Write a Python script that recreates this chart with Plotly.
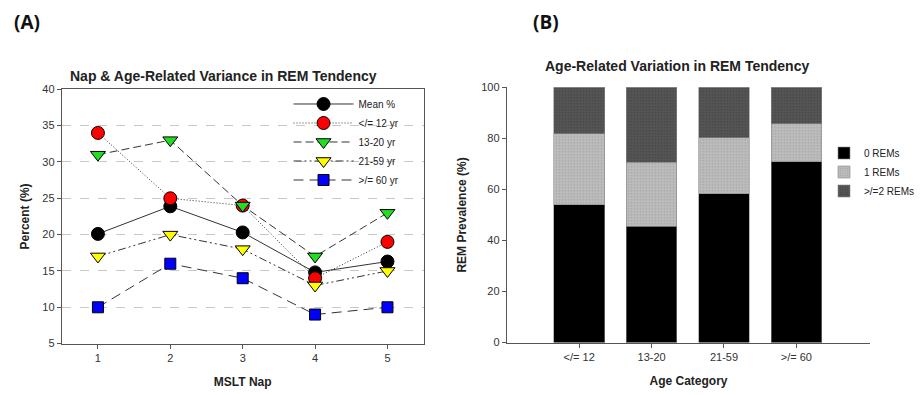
import plotly.graph_objects as go

# ---------- Panel A data ----------
naps = [1, 2, 3, 4, 5]
mean_pct = [20.1, 23.9, 20.3, 14.8, 16.3]
age_le12 = [34, 25, 24, 14, 19]
age_13_20 = [31, 33, 24, 17, 23]
age_21_59 = [17, 20, 18, 13, 15]
age_ge60 = [10, 16, 14, 9, 10]
series_names_a = ["Mean %", "</= 12 yr", "13-20 yr", "21-59 yr", ">/= 60 yr"]
y_ticks_a = [5, 10, 15, 20, 25, 30, 35, 40]

# ---------- Panel B data ----------
age_categories = ["</= 12", "13-20", "21-59", ">/= 60"]
rem0 = [54.0, 45.5, 58.3, 70.8]
rem1 = [27.8, 25.2, 21.9, 14.9]
rem2 = [18.2, 29.3, 19.8, 14.3]
series_names_b = ["0 REMs", "1 REMs", ">/=2 REMs"]
y_ticks_b = [0, 20, 40, 60, 80, 100]

FONT = "Liberation Sans, Arial, sans-serif"
LINEC = "#333333"

fig = go.Figure()

styles = [
    (mean_pct, "circle", "#000000", "solid", 13),
    (age_le12, "circle", "#ff0000", "1px,2px", 13),
    (age_13_20, "triangle-down", "#22dd22", "8px,4px", 13),
    (age_21_59, "triangle-down", "#ffff00", "8px,3px,2px,3px,2px,3px", 13),
    (age_ge60, "square", "#0000ff", "10px,6px", 11),
]
for (vals, sym, col, dash, sz), name in zip(styles, series_names_a):
    fig.add_trace(go.Scatter(
        x=naps, y=vals, name=name, mode="lines+markers",
        line=dict(color=LINEC, width=1, dash=dash),
        marker=dict(symbol=sym, color=col, size=sz, line=dict(color="#000000", width=1)),
        xaxis="x", yaxis="y", legend="legend",
    ))

bar_styles = [
    ("#000000", None),
    ("#b8b8b8", dict(shape=".", fgcolor="#8a8a8a", bgcolor="#bdbdbd", size=3, solidity=0.25)),
    ("#4e4e4e", dict(shape=".", fgcolor="#333333", bgcolor="#555555", size=3, solidity=0.25)),
]
for vals, name, (col, pat) in zip([rem0, rem1, rem2], series_names_b, bar_styles):
    m = dict(color=col, line=dict(color="#888888", width=0.6))
    if pat is not None:
        m["pattern"] = pat
    fig.add_trace(go.Bar(
        x=age_categories, y=vals, name=name, width=0.7, marker=m,
        xaxis="x2", yaxis="y2", legend="legend2",
    ))

axis_common = dict(
    showline=True, linecolor="#555555", linewidth=1,
    ticks="outside", ticklen=4, tickcolor="#555555",
    tickfont=dict(family=FONT, size=11, color="#333333"),
    zeroline=False,
)

fig.update_layout(
    width=920, height=395,
    margin=dict(l=0, r=0, t=0, b=0),
    paper_bgcolor="white", plot_bgcolor="white",
    font=dict(family=FONT, color="#222222"),
    barmode="stack",
    xaxis=dict(domain=[0.0674, 0.4625], range=[0.5, 5.5], tickvals=naps,
               mirror=True, showgrid=False,
               title=dict(text="<b>MSLT Nap</b>", font=dict(size=12, family=FONT, color="#222222"), standoff=14),
               anchor="y", **axis_common),
    yaxis=dict(domain=[0.1185, 0.7825], range=[5, 40], tickvals=y_ticks_a,
               mirror=True, showgrid=True, gridcolor="#c8c8c8", griddash="dash", gridwidth=1,
               title=dict(text="<b>Percent (%)</b>", font=dict(size=12, family=FONT, color="#222222"), standoff=10),
               anchor="x", **axis_common),
    xaxis2=dict(domain=[0.5533, 0.95], range=[-1, 4.02], showgrid=False,
                title=dict(text="<b>Age Category</b>", font=dict(size=12, family=FONT, color="#222222"), standoff=14),
                anchor="y2", **axis_common),
    yaxis2=dict(domain=[0.1213, 0.7878], range=[0, 100], tickvals=y_ticks_b, showgrid=False,
                title=dict(text="<b>REM Prevalence (%)</b>", font=dict(size=12, family=FONT, color="#222222"), standoff=12),
                anchor="x2", **axis_common),
    legend=dict(x=0.315, y=0.782, xanchor="left", yanchor="top",
                bgcolor="rgba(255,255,255,0)", font=dict(size=10, family=FONT, color="#222222"),
                traceorder="normal", itemwidth=60, tracegroupgap=0),
    legend2=dict(x=0.9, y=0.654, xanchor="left", yanchor="top",
                 bgcolor="rgba(255,255,255,0)", font=dict(size=10, family=FONT, color="#222222"),
                 traceorder="normal", tracegroupgap=0),
    annotations=[
        dict(text="<b>(A)</b>", x=12 / 920, y=1 - 17 / 395, xref="paper", yref="paper",
             xanchor="left", yanchor="middle", showarrow=False,
             font=dict(size=19, family="Open Sans, sans-serif", color="#111111")),
        dict(text="<b>(B)</b>", x=533 / 920, y=1 - 17 / 395, xref="paper", yref="paper",
             xanchor="left", yanchor="middle", showarrow=False,
             font=dict(size=19, family="Open Sans, sans-serif", color="#111111")),
        dict(text="<b>Nap & Age-Related Variance in REM Tendency</b>", x=224 / 920, y=1 - 72 / 395,
             xref="paper", yref="paper", xanchor="center", yanchor="middle", showarrow=False,
             font=dict(size=14, family=FONT, color="#222222")),
        dict(text="<b>Age-Related Variation in REM Tendency</b>", x=680 / 920, y=1 - 62 / 395,
             xref="paper", yref="paper", xanchor="center", yanchor="middle", showarrow=False,
             font=dict(size=14, family=FONT, color="#222222")),
    ],
)

fig.write_html("out.html")
